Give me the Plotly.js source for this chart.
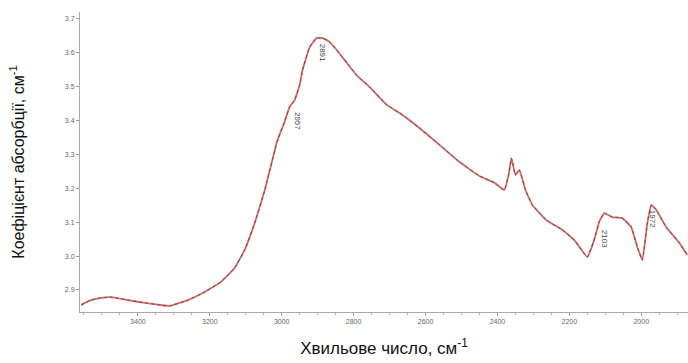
<!DOCTYPE html>
<html>
<head>
<meta charset="utf-8">
<script src="https://cdn.plot.ly/plotly-3.0.1.min.js"></script>
<style>html,body{margin:0;padding:0;background:#fff;}#chart{width:688px;height:363px;}</style>
</head>
<body>
<div id="chart"></div>
<script>
const wavenumber = [3558,3531,3506,3475,3428,3381,3339,3311,3261,3214,3169,3131,3103,3075,3047,3019,3014,2992,2978,2964,2950,2942,2922,2903,2886,2867,2847,2819,2792,2756,2708,2672,2617,2561,2506,2450,2408,2381,2369,2361,2350,2339,2322,2303,2264,2219,2186,2172,2150,2131,2117,2103,2081,2053,2028,2011,1997,1983,1972,1958,1931,1894,1872];
const absorbance = [2.856,2.870,2.876,2.879,2.870,2.862,2.856,2.853,2.870,2.894,2.924,2.965,3.018,3.098,3.195,3.313,3.335,3.396,3.440,3.460,3.505,3.549,3.617,3.643,3.643,3.632,3.608,3.570,3.534,3.499,3.446,3.422,3.378,3.328,3.278,3.236,3.216,3.195,3.239,3.289,3.239,3.254,3.195,3.151,3.106,3.077,3.047,3.027,2.997,3.047,3.101,3.127,3.115,3.112,3.086,3.027,2.988,3.098,3.151,3.136,3.086,3.039,3.003];
const xTicks = [3400,3200,3000,2800,2600,2400,2200,2000];
const yTicks = [2.9,3.0,3.1,3.2,3.3,3.4,3.5,3.6,3.7];
const yTickText = ['2.9','3.0','3.1','3.2','3.3','3.4','3.5','3.6','3.7'];
const peakLabels = ['2957','2891','2103','1972'];
const peakX = [2956,2888,2100,1970];
const peakY = [3.40,3.60,3.05,3.11];

const traces = [
  {x: wavenumber, y: absorbance, type:'scatter', mode:'lines',
   line:{color:'#d86a6a', width:1.8, shape:'spline', smoothing:0.3}, hoverinfo:'skip'},
  {x: wavenumber, y: absorbance, type:'scatter', mode:'lines',
   line:{color:'#6a3a3a', width:0.8, dash:'dot', shape:'spline', smoothing:0.3}, hoverinfo:'skip'}
];

const annotations = peakLabels.map((t,i)=>({
  x: peakX[i], y: peakY[i], xref:'x', yref:'y', text:t, showarrow:false,
  textangle:90, font:{family:'Liberation Sans, Arial', size:8, color:'#444'}
}));

const layout = {
  width:688, height:363,
  margin:{l:80, r:0, t:12, b:51},
  paper_bgcolor:'#fff', plot_bgcolor:'#fff',
  showlegend:false,
  xaxis:{
    range:[3561,1870], tickvals:xTicks, ticktext:xTicks.map(String),
    showgrid:false, zeroline:false, showline:true, linecolor:'#aaa', linewidth:1,
    ticks:'outside', ticklen:3, tickcolor:'#999',
    minor:{dtick:50, ticks:'outside', ticklen:2, tickcolor:'#bbb'},
    tickfont:{family:'Liberation Sans, Arial', size:7, color:'#666'},
    title:{text:'Хвильове число, см<sup>-1</sup>', standoff:17,
      font:{family:'Liberation Sans, Arial', size:17, color:'#111'}}
  },
  yaxis:{
    range:[2.835,3.72], tickvals:yTicks, ticktext:yTickText,
    showgrid:false, zeroline:false, showline:true, linecolor:'#aaa', linewidth:1,
    ticks:'outside', ticklen:3, tickcolor:'#999',
    tickfont:{family:'Liberation Sans, Arial', size:7, color:'#666'},
    title:{text:'Коефіцієнт абсорбції, см<sup>-1</sup>', standoff:36,
      font:{family:'Liberation Sans, Arial', size:16, color:'#111'}}
  },
  annotations: annotations
};

Plotly.newPlot('chart', traces, layout, {displayModeBar:false, staticPlot:true});
</script>
</body>
</html>
